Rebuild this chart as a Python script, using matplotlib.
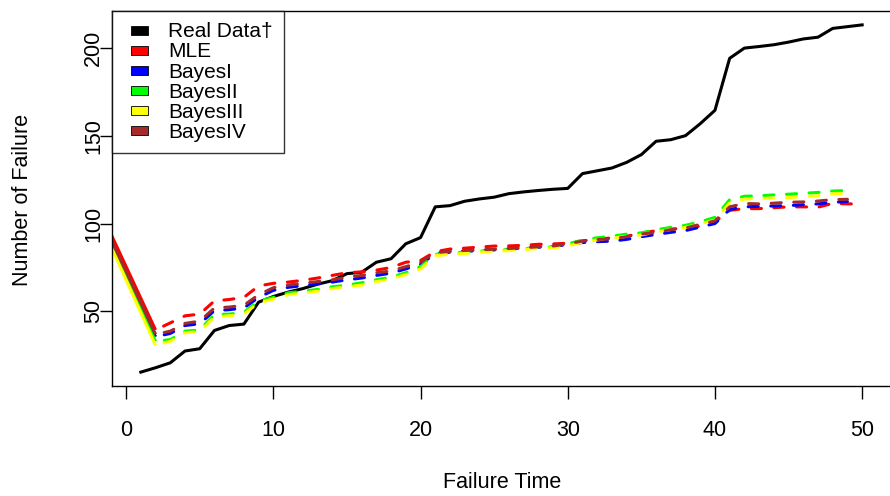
import matplotlib
matplotlib.use("Agg")
import matplotlib.pyplot as plt
from matplotlib.patches import Patch, Rectangle
from matplotlib.legend_handler import HandlerPatch

plt.rcParams['font.family'] = ['Liberation Sans', 'DejaVu Sans']

# datos observados (tiempo 1..50)
tiempo_real = list(range(1, 51))
real = [15.5, 18, 20.8, 27.5, 28.8, 39.2, 42, 42.8, 55.3, 58.5,
        61, 63, 65.5, 67.5, 71.5, 72.3, 78, 80, 88.5, 92,
        109.5, 110.2, 112.7, 114, 115, 117, 118, 118.8, 119.5, 120,
        128.4, 130, 131.6, 134.8, 139.2, 146.8, 147.7, 150, 156.8, 164.4,
        194, 199.8, 200.7, 201.7, 203.2, 205, 206, 211, 212, 213]

# modelos: primer punto en -1, luego 2..49 (MLE hasta 50)
tiempo_mod = [-1] + list(range(2, 50))
tiempo_mle = [-1] + list(range(2, 51))

mle = [93.5, 39.5, 43.5, 47.5, 48.5, 56, 56.8, 58, 64.5, 66,
       66.7, 67.7, 69, 70.5, 72, 72.5, 73.5, 75, 78, 79,
       84, 85.5, 86, 86.6, 87.2, 87.3, 87.6, 88.2, 88.4, 88.8,
       90.2, 91, 91.9, 92.8, 94.5, 96, 96.8, 97.5, 98.5, 101,
       107.5, 108.5, 108.5, 109, 109.5, 109.5, 109.3, 111.5, 111.2, 111.2]

bayes1 = [89, 35.6, 37.5, 42, 43, 50.5, 51, 52, 58, 62,
          63.7, 64.7, 65.7, 66.7, 68, 69, 70.5, 71.8, 74.2, 76.8,
          83, 83.7, 84.2, 84.6, 85, 85.5, 86, 86.5, 87, 88,
          89.2, 89.7, 90, 91, 92.5, 93.8, 95, 96, 98, 100,
          108, 109.5, 109.8, 110, 110.2, 110.7, 111.2, 112.1, 112.5]

bayes2 = [87.5, 33, 34, 38.8, 39.5, 48.3, 48.5, 49.5, 56, 58,
          60.6, 61.5, 62.5, 64, 65, 66.3, 68, 69.5, 72, 75.5,
          82.5, 83.2, 83.7, 84.3, 84.8, 85.2, 85.7, 86.3, 86.8, 88.5,
          90.5, 91.9, 92.8, 94, 94.7, 96.5, 97.8, 99, 101, 103.5,
          113.6, 115.5, 115.8, 116.3, 116.7, 117.2, 117.7, 118.5, 118.8]

bayes3 = [86.5, 30.7, 33, 37.9, 38.5, 47, 47.5, 48.5, 55, 57,
          59.5, 60.5, 61.5, 63, 64, 65, 67, 68.5, 71, 74.2,
          81.8, 82.5, 83, 83.7, 84.2, 84.6, 85.2, 85.8, 86.2, 87.3,
          89.3, 90.7, 91.6, 92.8, 93.5, 95.3, 96.6, 97.8, 99.8, 102,
          111.8, 114, 114.2, 114.5, 114.8, 115.3, 115.8, 117, 117.2]

bayes4 = [90.5, 37, 38.8, 43.2, 44.5, 52, 52.5, 53.5, 59.5, 63.5,
          65, 66, 67, 68, 69.5, 70.5, 72, 73, 75.5, 78,
          83.5, 84.2, 84.7, 85, 85.4, 85.8, 86.2, 86.8, 87.2, 88.5,
          90, 90.9, 91.3, 92.5, 94, 95, 96.5, 97.5, 99.5, 101.5,
          109.5, 111.4, 111.2, 111.6, 112.1, 112.3, 112.8, 113.6, 113.8]

etiquetas = ['Real Data\u2020', 'MLE', 'BayesI', 'BayesII', 'BayesIII', 'BayesIV']
colores = ['black', 'red', 'blue', '#00ff00', 'yellow', 'brown']

fig = plt.figure(figsize=(8.9, 4.96), dpi=100)
ax = fig.add_axes([112 / 890, 110 / 496, 779 / 890, 375 / 496])

ax.plot(tiempo_real, real, color='black', lw=2.2, solid_joinstyle='round')

series = [(tiempo_mle, mle, 'red'), (tiempo_mod, bayes1, 'blue'),
          (tiempo_mod, bayes2, '#00ff00'), (tiempo_mod, bayes3, 'yellow'),
          (tiempo_mod, bayes4, 'brown')]
for xs, ys, c in series:
    # primer tramo continuo, resto discontinuo
    ax.plot(xs[:2], ys[:2], color=c, lw=2.2, solid_capstyle='butt')
    ax.plot(xs[1:], ys[1:], color=c, lw=2.2, ls=(4.5, (3.3, 4.1)),
            dash_capstyle='round', dash_joinstyle='round')

ax.set_xlim(-0.96, 51.96)
ax.set_ylim(7.6, 220.9)
ax.set_xticks([0, 10, 20, 30, 40, 50])
ax.set_yticks([50, 100, 150, 200])
ax.tick_params(axis='both', direction='out', length=9, width=1, labelsize=15.5, pad=15.5)
ax.tick_params(axis='y', pad=-3.5)
for lab in ax.get_yticklabels():
    lab.set_rotation(90)
    lab.set_va('center')
for sp in ax.spines.values():
    sp.set_linewidth(1)

fig.text(502 / 890, 1 - 483 / 496, 'Failure Time', ha='center', va='center', fontsize=15.5)
fig.text(23 / 890, 1 - 200 / 496, 'Number of Failure', ha='center', va='center',
         rotation=90, fontsize=15.5)


# cuadrito relleno como en la leyenda de R
def cuadrito(legend, orig_handle, xdescent, ydescent, width, height, fontsize):
    return Rectangle((-xdescent + 5.5, -ydescent + height / 2 - 3.2), 12.2, 6.4)


manijas = [Patch(facecolor=c, edgecolor='black', lw=0.6) for c in colores]
leg = ax.legend(manijas, etiquetas, loc='upper left', bbox_to_anchor=(0, 1),
                fontsize=15, frameon=True, fancybox=False, borderaxespad=0,
                handlelength=1.2, handleheight=0.7, handletextpad=0.93,
                labelspacing=0.05, borderpad=0.55,
                handler_map={Patch: HandlerPatch(patch_func=cuadrito)})
leg.get_frame().set_edgecolor('black')
leg.get_frame().set_linewidth(1)

fig.savefig('out.png', dpi=100)
